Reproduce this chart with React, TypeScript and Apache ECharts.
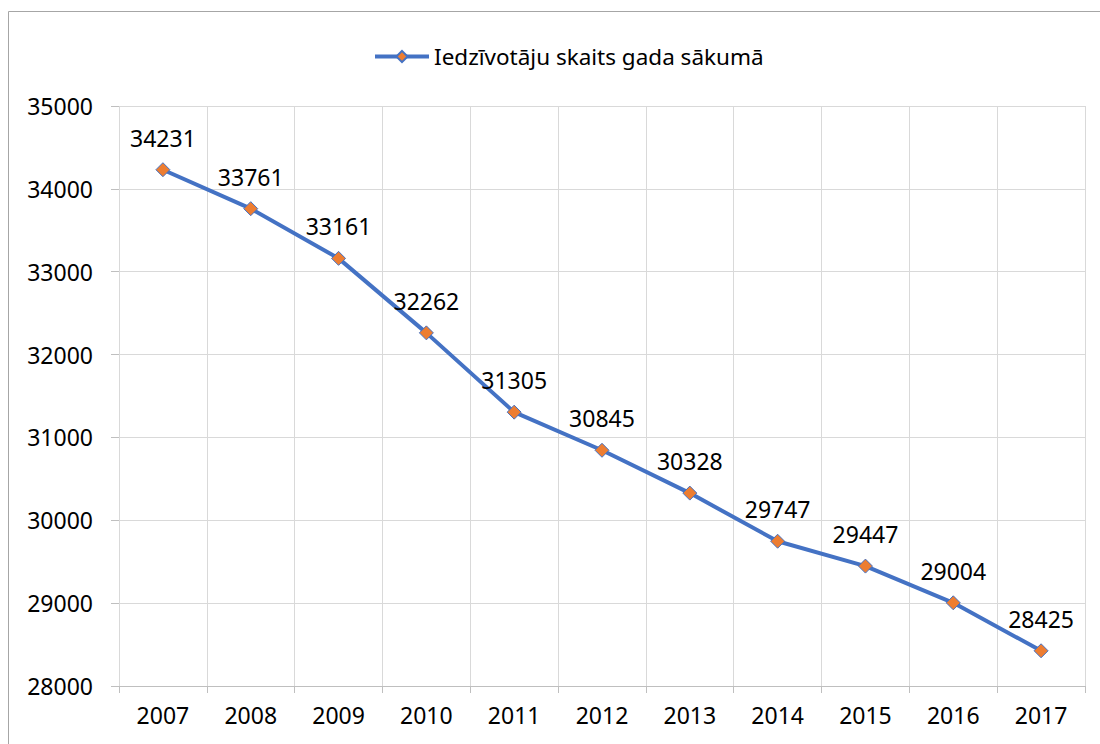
import React, { useEffect, useRef } from "react";
import * as echarts from "echarts";

const years = ["2007", "2008", "2009", "2010", "2011", "2012", "2013", "2014", "2015", "2016", "2017"];
const population = [34231, 33761, 33161, 32262, 31305, 30845, 30328, 29747, 29447, 29004, 28425];
const seriesName = "Iedzīvotāju skaits gada sākumā";

const FONT = "Noto Sans";
const FS = 23;

export default function App() {
  const ref = useRef<HTMLDivElement>(null);
  useEffect(() => {
    if (!ref.current) return;
    const chart = echarts.init(ref.current, null, { renderer: "svg" });
    chart.setOption({
      animation: false,
      backgroundColor: "#ffffff",
      textStyle: { fontFamily: FONT },
      graphic: [
        {
          type: "rect",
          shape: { x: 8.5, y: 11.5, width: 1100, height: 760 },
          style: { fill: "none", stroke: "#a6a6a6", lineWidth: 1 },
          silent: true,
        },
      ],
      legend: {
        top: 40,
        left: 368,
        itemWidth: 54,
        itemHeight: 14,
        itemGap: 6,
        lineStyle: { width: 4 },
        textStyle: { fontSize: 22.5, color: "#000", fontFamily: FONT },
        data: [seriesName],
      },
      grid: { left: 119, right: 15, top: 106, bottom: 58, containLabel: false },
      xAxis: {
        type: "category",
        data: years,
        boundaryGap: true,
        axisLine: { show: true, lineStyle: { color: "#bfbfbf", width: 1 } },
        axisTick: { show: true, length: 7, lineStyle: { color: "#bfbfbf" } },
        splitLine: { show: true, lineStyle: { color: "#d9d9d9", width: 1 } },
        axisLabel: { fontSize: FS, color: "#000", margin: 17, fontFamily: FONT },
      },
      yAxis: {
        type: "value",
        min: 28000,
        max: 35000,
        interval: 1000,
        axisLine: { show: false },
        axisTick: { show: true, length: 8, lineStyle: { color: "#bfbfbf" } },
        splitLine: { show: true, lineStyle: { color: "#d9d9d9", width: 1 } },
        axisLabel: {
          fontSize: FS,
          color: "#000",
          margin: 26,
          fontFamily: FONT,
          formatter: (v: number) => String(v),
        },
      },
      series: [
        {
          name: seriesName,
          type: "line",
          data: population,
          symbol: "diamond",
          symbolSize: 14,
          itemStyle: { color: "#ed7d31", borderColor: "#4472c4", borderWidth: 1 },
          lineStyle: { color: "#4472c4", width: 4 },
          label: {
            show: true,
            position: "top",
            distance: 13,
            fontSize: FS,
            color: "#000",
            fontFamily: FONT,
          },
        },
      ],
    });
    return () => chart.dispose();
  }, []);
  return (
    <div
      ref={ref}
      style={{ position: "fixed", left: 0, top: 0, width: 1100, height: 744 }}
    />
  );
}
